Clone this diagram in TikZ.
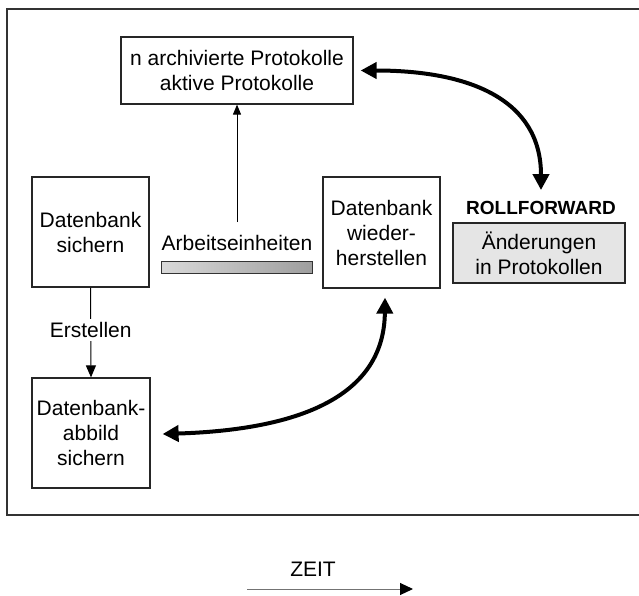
\documentclass[tikz,border=0pt]{standalone}
\usepackage{fontspec}
\setmainfont{Liberation Sans}
\usetikzlibrary{arrows.meta,calc}
\begin{document}
\begin{tikzpicture}[x=1pt,y=-1pt,
  every node/.style={font=\fontsize{21}{25}\selectfont},
  box/.style={draw=black!85, line width=1.2pt, align=center, inner sep=0pt},
  link/.style={draw=black, line width=1pt},
  bigarrow/.style={line width=4pt,
    {Triangle[length=16pt,width=16pt]}-{Triangle[length=16pt,width=16pt]}},
]
\useasboundingbox (0,0) rectangle (639,596);

% outer frame (open to the right)
\draw[line width=2pt, black!80] (660,9) -- (7,9) -- (7,515) -- (660,515);

% boxes
\node[box, minimum width=232pt, minimum height=67pt] (proto) at (237,70.5)
  {n archivierte Protokolle\\aktive Protokolle};
\node[box, minimum width=117pt, minimum height=110pt] (sichern) at (90.5,232)
  {Datenbank\\sichern};
\node[box, minimum width=117pt, minimum height=111pt] (wieder) at (381.5,232.5)
  {Datenbank\\wieder-\\herstellen};
\node[box, minimum width=118pt, minimum height=110pt] (abbild) at (91,433)
  {Datenbank-\\abbild\\sichern};
\node[box, fill=black!10, minimum width=172pt, minimum height=60pt] (aend) at (539,253)
  {Änderungen\\in Protokollen};

% labels
\node[font=\bfseries\fontsize{19}{22}\selectfont, inner sep=0pt] (rf) at (541,208) {ROLLFORWARD};
\node[inner sep=0pt] (work) at (237,243) {Arbeitseinheiten};
\node[draw=black!80, line width=1pt, left color=black!15, right color=black!38,
  minimum width=151pt, minimum height=12pt, inner sep=0pt] (bar) at (236.5,267) {};

% thin connectors
\draw[link, -{Triangle[length=10pt,width=8pt]}] ($(work.north)+(0,-13)$) -- (proto.south);
\draw[link, -{Triangle[length=12pt,width=10pt]}] (sichern.south) -- (abbild.north)
  node[pos=0.47, fill=white, inner sep=3pt] (erst) {Erstellen};

% thick curved double arrows
\draw[bigarrow] ($(proto.east)+(7,0)$) .. controls +(110,0) and +(0,-90) .. ($(rf.north)+(0,-11)$);
\draw[bigarrow] ($(wieder.south)+(3.5,9)$) .. controls +(-1,103) and +(128,-4) .. ($(abbild.east)+(12,1)$);

% time axis
\node (zeit) at (313,569) {ZEIT};
\coordinate (t0) at (247,589);
\coordinate (t1) at (413,589);
\draw[black!55, line width=1pt, -{Triangle[length=13pt,width=12pt,color=black]}] (t0) -- (t1);
\end{tikzpicture}
\end{document}
